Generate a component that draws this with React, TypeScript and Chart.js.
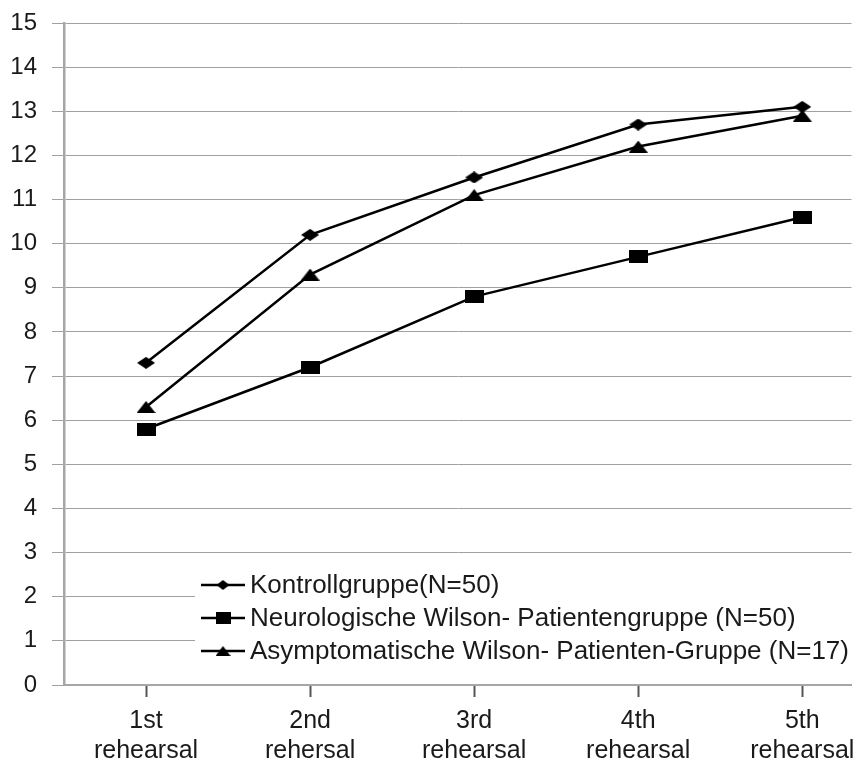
import React, { useEffect, useRef } from "react";
import { Chart, registerables } from "chart.js";

Chart.register(...registerables);

// Rehearsal labels (two lines each)
const tickLine1 = ["1st", "2nd", "3rd", "4th", "5th"];
const tickLine2 = ["rehearsal", "rehersal", "rehearsal", "rehearsal", "rehearsal"];

// Mean recalled items per rehearsal
const kontrollgruppe = [7.3, 10.2, 11.5, 12.7, 13.1];
const neurologische = [5.8, 7.2, 8.8, 9.7, 10.6];
const asymptomatische = [6.3, 9.3, 11.1, 12.2, 12.9];

const seriesNames = [
  "Kontrollgruppe(N=50)",
  "Neurologische Wilson- Patientengruppe (N=50)",
  "Asymptomatische Wilson- Patienten-Gruppe (N=17)",
];

const FONT = '"Liberation Sans", Arial, sans-serif';
const TEXT = "#1a1a1a";

type Shape = "diamond" | "square" | "triangle";

function makeMarker(shape: Shape, w: number, h: number) {
  const c = document.createElement("canvas");
  c.width = w;
  c.height = h;
  const ctx = c.getContext("2d")!;
  ctx.fillStyle = "#000";
  ctx.beginPath();
  if (shape === "diamond") {
    ctx.moveTo(w / 2, 0);
    ctx.lineTo(w, h / 2);
    ctx.lineTo(w / 2, h);
    ctx.lineTo(0, h / 2);
  } else if (shape === "square") {
    ctx.rect(0, 0, w, h);
  } else {
    ctx.moveTo(w / 2, 0);
    ctx.lineTo(w, h);
    ctx.lineTo(0, h);
  }
  ctx.closePath();
  ctx.fill();
  return c;
}

export default function App() {
  const ref = useRef<HTMLCanvasElement | null>(null);

  useEffect(() => {
    document.body.style.margin = "0";
    const canvas = ref.current!;
    const markers = [
      makeMarker("diamond", 18, 12),
      makeMarker("square", 19, 13),
      makeMarker("triangle", 19, 12),
    ];
    const legendMarkers = [
      makeMarker("diamond", 13, 10),
      makeMarker("square", 15, 12),
      makeMarker("triangle", 15, 10),
    ];
    const values = [kontrollgruppe, neurologische, asymptomatische];

    // Legend boxed inside the plot area, on a white ground over the grid
    const insetLegend = {
      id: "insetLegend",
      beforeDatasetsDraw(chart: any) {
        const ctx = chart.ctx;
        ctx.save();
        ctx.fillStyle = "#fff";
        ctx.fillRect(195, 562, 662, 106);
        ctx.font = `26px ${FONT}`;
        ctx.textBaseline = "middle";
        const rows = [585, 618, 651];
        rows.forEach((y, i) => {
          ctx.strokeStyle = "#000";
          ctx.lineWidth = 2.5;
          ctx.beginPath();
          ctx.moveTo(201, y);
          ctx.lineTo(245, y);
          ctx.stroke();
          const m = legendMarkers[i];
          ctx.drawImage(m, 223 - m.width / 2, y - m.height / 2);
          ctx.fillStyle = TEXT;
          ctx.fillText(seriesNames[i], 250, y + 1);
        });
        ctx.restore();
      },
    };

    const chart = new Chart(canvas, {
      type: "line",
      data: {
        datasets: values.map((vals, i) => ({
          label: seriesNames[i],
          data: vals.map((v, k) => ({ x: k + 1, y: v })),
          borderColor: "#000",
          borderWidth: 2.5,
          pointStyle: markers[i] as any,
          pointRadius: 8,
          tension: 0,
        })),
      },
      options: {
        animation: false,
        responsive: false,
        layout: { padding: { top: 23, right: 10, left: 0, bottom: 0 } },
        plugins: { legend: { display: false }, tooltip: { enabled: false } },
        scales: {
          x: {
            type: "linear",
            min: 0.5,
            max: 5.3,
            afterBuildTicks: (scale: any) => {
              scale.ticks = tickLine1.map((_, i) => ({ value: i + 1 }));
            },
            afterFit: (scale: any) => {
              scale.height = 82;
              scale.paddingLeft = 0;
              scale.paddingRight = 0;
            },
            border: { color: "#a6a6a6", width: 2 },
            grid: {
              drawOnChartArea: false,
              drawTicks: true,
              tickLength: 12,
              tickColor: "#555",
              tickWidth: 2,
            },
            ticks: {
              autoSkip: false,
              maxRotation: 0,
              padding: 9,
              color: TEXT,
              font: { family: FONT, size: 25, lineHeight: 1.2 },
              callback: (v: any) => {
                const i = Math.round(Number(v)) - 1;
                return [tickLine1[i], tickLine2[i]];
              },
            },
          },
          y: {
            min: 0,
            max: 15,
            afterFit: (scale: any) => {
              scale.width = 64;
              scale.paddingTop = 0;
              scale.paddingBottom = 0;
            },
            border: { color: "#a6a6a6", width: 2.5 },
            grid: { color: "#a0a0a0", lineWidth: 1, tickLength: 12 },
            ticks: {
              stepSize: 1,
              padding: 15,
              color: TEXT,
              font: { family: FONT, size: 24 },
            },
          },
        },
      },
      plugins: [insetLegend],
    });

    return () => chart.destroy();
  }, []);

  return <canvas ref={ref} width={862} height={767} style={{ display: "block" }} />;
}
